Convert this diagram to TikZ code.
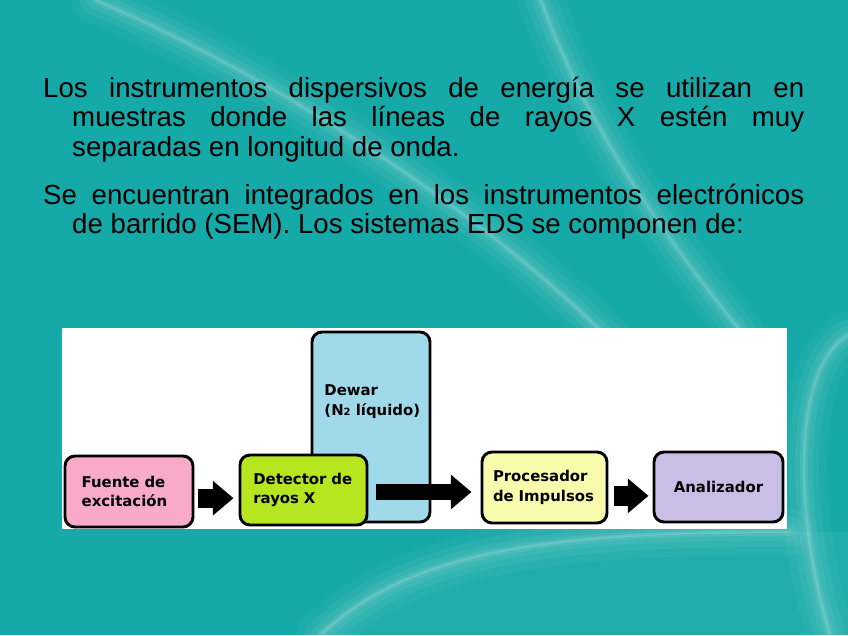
\documentclass[tikz,border=0pt]{standalone}
\usepackage{fontspec}
\setmainfont{Liberation Sans}
\newfontfamily\boxfont{DejaVu Sans}
\usetikzlibrary{arrows.meta}
\definecolor{slidebg}{RGB}{21,169,167}
\definecolor{fuentepink}{RGB}{249,170,200}
\definecolor{detectgreen}{RGB}{182,230,32}
\definecolor{dewarblue}{RGB}{160,218,234}
\definecolor{procyellow}{RGB}{248,250,172}
\definecolor{analilac}{RGB}{200,190,230}
\newcommand{\hang}{\hspace*{0.87cm}}

\tikzset{
  stage/.style={draw=black,line width=2.5pt,rounded corners=0.3cm,minimum height=2.1cm,
    align=left,font=\boxfont\bfseries\fontsize{12.7}{16.5}\selectfont},
  bigarrow/.style={line width=0.57cm,-{Triangle[length=0.62cm,width=1.0cm]}},
  glow/.style={white,line cap=round},
  bodytext/.style={anchor=base west,text width=22.83cm,inner sep=0pt,align=justify,
    font=\fontsize{23.6}{25.5}\selectfont}
}

\begin{document}
\begin{tikzpicture}[x=0.03cm,y=-0.03cm]
  % slide background
  \fill[slidebg] (0,0) rectangle (848,635);
  \useasboundingbox (0,0) rectangle (848,635);
  \begin{scope}
    \clip (0,0) rectangle (848,635);
    \fill[white,opacity=0.05] (320,635) .. controls (400,560) and (520,530) .. (790,532) -- (848,532) -- (848,635) -- cycle;
    \foreach \w/\o in {40pt/0.04,26pt/0.05,15pt/0.06,7pt/0.08,2.5pt/0.14}{
      \draw[glow,line width=\w,opacity=\o] (95,0) .. controls (260,70) and (470,200) .. (610,340);
      \draw[glow,line width=\w,opacity=\o] (541,0) .. controls (580,110) and (650,220) .. (740,330);
      \draw[glow,line width=\w,opacity=\o] (320,635) .. controls (400,560) and (520,530) .. (790,532);
      \draw[glow,line width=\w,opacity=\o] (848,335) .. controls (790,370) and (795,520) .. (830,635);
    }
  \end{scope}

  % text
  \node[bodytext] (intro) at (43,97) {%
    Los instrumentos dispersivos de energía se utilizan en\linebreak
    \hang muestras donde las líneas de rayos X estén muy\linebreak
    \hang separadas en longitud de onda.};
  \node[bodytext] (sem) at (43,204) {%
    Se encuentran integrados en los instrumentos electrónicos\linebreak
    \hang de barrido (SEM). Los sistemas EDS se componen de:};

  % diagram
  \node[fill=white,inner sep=0pt,minimum width=21.75cm,minimum height=6.03cm] (panel) at (424.5,428.5) {};
  \node[stage,fill=dewarblue,minimum width=3.54cm,minimum height=5.7cm] (dewar) at (371,427) {};
  \node[stage,draw=none,fill=none,anchor=west,inner sep=0pt] (dewarlbl) at (323,401.5)
    {Dewar\\(N{\fontsize{8.5}{8.5}\selectfont 2} líquido)};
  \node[stage,fill=fuentepink,minimum width=3.84cm,minimum height=2.13cm,
    inner xsep=0.5cm,text width=2.84cm] (fuente) at (129,491.5) {Fuente de\\excitación};
  \node[stage,fill=detectgreen,minimum width=3.81cm,
    inner xsep=0.4cm,text width=3.01cm] (detector) at (303.5,490) {Detector de\\rayos X};
  \node[stage,fill=procyellow,minimum width=3.75cm,minimum height=2.13cm,
    inner xsep=0.33cm,text width=3.09cm] (procesador) at (544.5,487.5) {Procesador\\de Impulsos};
  \node[stage,fill=analilac,minimum width=3.87cm,align=center] (analizador) at (718.5,487) {Analizador};

  \draw[bigarrow,shorten <=0.12cm,shorten >=0.15cm]
    ([yshift=-0.2cm]fuente.east) -- ([yshift=-0.2cm]fuente.east -| detector.west);
  \draw[bigarrow,line width=0.48cm,shorten <=0.24cm,shorten >=0.27cm]
    ([yshift=-0.06cm]detector.east) -- ([yshift=-0.06cm]detector.east -| procesador.west);
  \draw[bigarrow,line width=0.62cm,shorten <=0.18cm,shorten >=0.12cm]
    ([yshift=-0.25cm]procesador.east) -- ([yshift=-0.25cm]procesador.east -| analizador.west);
\end{tikzpicture}
\end{document}
